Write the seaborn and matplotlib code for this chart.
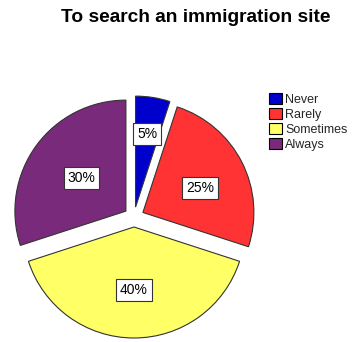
import numpy as np
import matplotlib
matplotlib.use("Agg")
import matplotlib.pyplot as plt
from matplotlib.patches import Patch
import seaborn as sns

# Survey answers: how often respondents search an immigration site
categories = ["Never", "Rarely", "Sometimes", "Always"]
shares = [5, 25, 40, 30]
percent_labels = ["5%", "25%", "40%", "30%"]
slice_colors = ["#0000CC", "#FF3333", "#FFFF66", "#7A2A7A"]
title_text = "To search an immigration site"

sns.set_theme(style="white")
plt.rcParams["font.family"] = ["Liberation Sans", "DejaVu Sans"]

fig = plt.figure(figsize=(3.58, 3.42), dpi=100)
W, H = 358, 342

# pie geometry in pixels
cx, cy, r_px = 134, 217, 111
lim = 1.2
side = 2 * lim * r_px
ax = fig.add_axes([(cx - side / 2) / W, (H - (cy + side / 2)) / H, side / W, side / H])
ax.axis("off")

palette = sns.color_palette(slice_colors)
explode = [10 / r_px] * len(shares)
wedges, _ = ax.pie(
    shares,
    colors=palette,
    startangle=90,
    counterclock=False,
    explode=explode,
    radius=1.0,
    wedgeprops=dict(edgecolor="#333333", linewidth=0.8),
)
ax.set_xlim(-lim, lim)
ax.set_ylim(-lim, lim)
ax.set_aspect("equal")

# percentage labels in boxed tags inside each wedge
label_dist = [0.67, 0.56, 0.565, 0.5]
angle_shift = [0, -4, 0, -1]
for w, txt, d, s, ex in zip(wedges, percent_labels, label_dist, angle_shift, explode):
    mid = np.deg2rad((w.theta1 + w.theta2) / 2)
    ox, oy = ex * np.cos(mid), ex * np.sin(mid)
    a = mid + np.deg2rad(s)
    ax.text(ox + d * np.cos(a), oy + d * np.sin(a), txt, ha="center", va="center",
            fontsize=10, color="black",
            bbox=dict(boxstyle="square,pad=0.28", facecolor="white", edgecolor="#333333", linewidth=0.8))

fig.text(196 / W, 1 - 18 / H, title_text, ha="center", va="center",
         fontsize=13.8, fontweight="bold", color="black")

handles = [Patch(facecolor=c, edgecolor="black", linewidth=0.8) for c in palette]
fig.legend(handles, categories, loc="upper left", bbox_to_anchor=(260 / W, 1 - 84 / H),
           frameon=False, fontsize=9, handlelength=1.05, handleheight=1.05,
           handletextpad=0.25, labelspacing=0.15, borderpad=0.2)

fig.savefig("out.png", dpi=100)
